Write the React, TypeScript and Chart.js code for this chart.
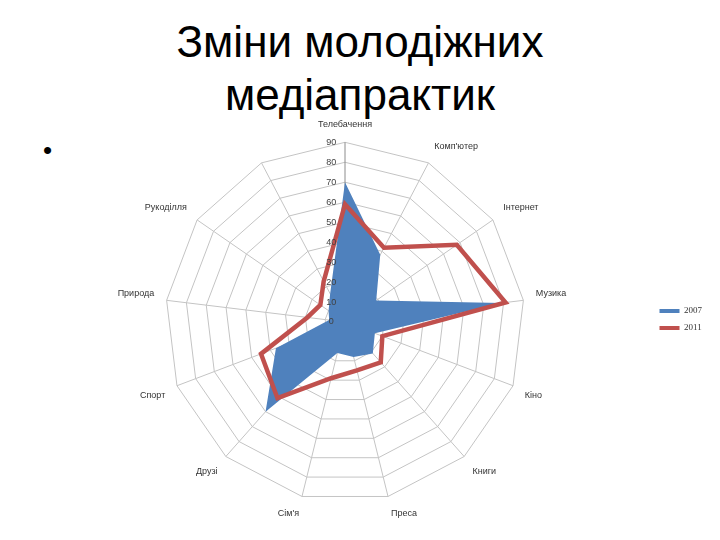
import React, { useEffect, useRef } from 'react';
import Chart from 'chart.js/auto';

const titleLines = ['Зміни молодіжних', 'медіапрактик'];

const categories = [
  'Телебачення',
  "Комп'ютер",
  'Інтернет',
  'Музика',
  'Кіно',
  'Книги',
  'Преса',
  "Сім'я",
  'Друзі',
  'Спорт',
  'Природа',
  'Рукоділля',
  '',
];

const series2007 = [70, 38, 19, 79, 16, 21, 18, 16, 60, 37, 8, 10, 16];
const series2011 = [59, 42, 68, 81, 20, 27, 25, 29, 51, 45, 19, 15, 23];

const tickValues = [0, 10, 20, 30, 40, 50, 60, 70, 80, 90];

const BLUE = '#4f81bd';
const RED = '#c0504d';
const TICK_COLOR = '#404040';

// labels sit left of the vertical axis, like Excel does
const tickText = (v: number | string) => String(v) + '           ';

const zeroLabel = {
  id: 'zeroLabel',
  afterDraw(chart: any) {
    const s = chart.scales.r;
    if (!s) return;
    const ctx = chart.ctx;
    const p = s.getPointPositionForValue(0, tickValues[0]);
    ctx.save();
    ctx.font = '9px "Liberation Sans", Arial, sans-serif';
    ctx.fillStyle = TICK_COLOR;
    ctx.textAlign = 'center';
    ctx.textBaseline = 'middle';
    ctx.fillText(tickText(tickValues[0]), p.x, p.y);
    ctx.restore();
  },
};

const RadarChart: React.FC = () => {
  const canvasRef = useRef<HTMLCanvasElement>(null);
  const chartInstance = useRef<Chart | null>(null);

  useEffect(() => {
    if (!canvasRef.current) return;
    if (chartInstance.current) chartInstance.current.destroy();

    const ctx = canvasRef.current.getContext('2d');
    if (!ctx) return;

    chartInstance.current = new Chart(ctx, {
      type: 'radar',
      data: {
        labels: categories,
        datasets: [
          {
            label: '2007',
            data: series2007,
            backgroundColor: BLUE,
            borderColor: BLUE,
            borderWidth: 0,
            fill: true,
            pointRadius: 0,
            order: 1,
          },
          {
            label: '2011',
            data: series2011,
            backgroundColor: RED,
            borderColor: RED,
            borderWidth: 4.5,
            borderJoinStyle: 'miter',
            fill: false,
            pointRadius: 0,
            order: 0,
          },
        ],
      },
      plugins: [zeroLabel],
      options: {
        responsive: true,
        maintainAspectRatio: false,
        animation: false,
        layout: {
          padding: { top: 116, bottom: 17, left: 40, right: 8 },
        },
        scales: {
          r: {
            min: tickValues[0],
            max: tickValues[tickValues.length - 1],
            ticks: {
              stepSize: tickValues[1] - tickValues[0],
              showLabelBackdrop: false,
              color: TICK_COLOR,
              font: { family: '"Liberation Sans", Arial, sans-serif', size: 9 },
              z: 1,
              callback: (v: any) => tickText(v),
            },
            grid: {
              color: '#c4c4c4',
              lineWidth: 1,
            },
            angleLines: {
              color: (c: any) => (c.index === 0 ? '#8c8c8c' : '#c4c4c4'),
              lineWidth: 1,
            },
            pointLabels: {
              color: '#333333',
              padding: 6,
              font: { family: '"Liberation Sans", Arial, sans-serif', size: 9 },
            },
          },
        },
        plugins: {
          legend: {
            position: 'right',
            align: 'center',
            labels: {
              boxWidth: 20,
              boxHeight: 4,
              padding: 8,
              color: '#333333',
              font: { family: '"Liberation Serif", "Times New Roman", serif', size: 9 },
              sort: (a: any, b: any) => a.datasetIndex - b.datasetIndex,
              generateLabels: (chart: any) =>
                Chart.defaults.plugins.legend.labels
                  .generateLabels(chart)
                  .map((item: any) => ({ ...item, lineWidth: 0 })),
            },
          },
          tooltip: { enabled: false },
        },
      },
    });

    return () => {
      if (chartInstance.current) {
        chartInstance.current.destroy();
        chartInstance.current = null;
      }
    };
  }, []);

  return <canvas ref={canvasRef} />;
};

const App: React.FC = () => (
  <div
    style={{
      position: 'absolute',
      left: 0,
      top: 0,
      width: 720,
      height: 540,
      background: '#ffffff',
      overflow: 'hidden',
    }}
  >
    <div
      style={{
        position: 'absolute',
        left: 0,
        top: 15,
        width: 720,
        textAlign: 'center',
        fontFamily: '"Liberation Sans", Arial, sans-serif',
        fontSize: 44,
        lineHeight: '53px',
        color: '#000',
      }}
    >
      {titleLines.map((t) => (
        <div key={t}>{t}</div>
      ))}
    </div>
    <div
      style={{
        position: 'absolute',
        left: 43,
        top: 137,
        fontFamily: '"Liberation Sans", Arial, sans-serif',
        fontSize: 26,
        lineHeight: '26px',
        color: '#000',
      }}
    >
      •
    </div>
    <div style={{ position: 'absolute', left: 0, top: 0, width: 720, height: 540 }}>
      <RadarChart />
    </div>
  </div>
);

export default App;
